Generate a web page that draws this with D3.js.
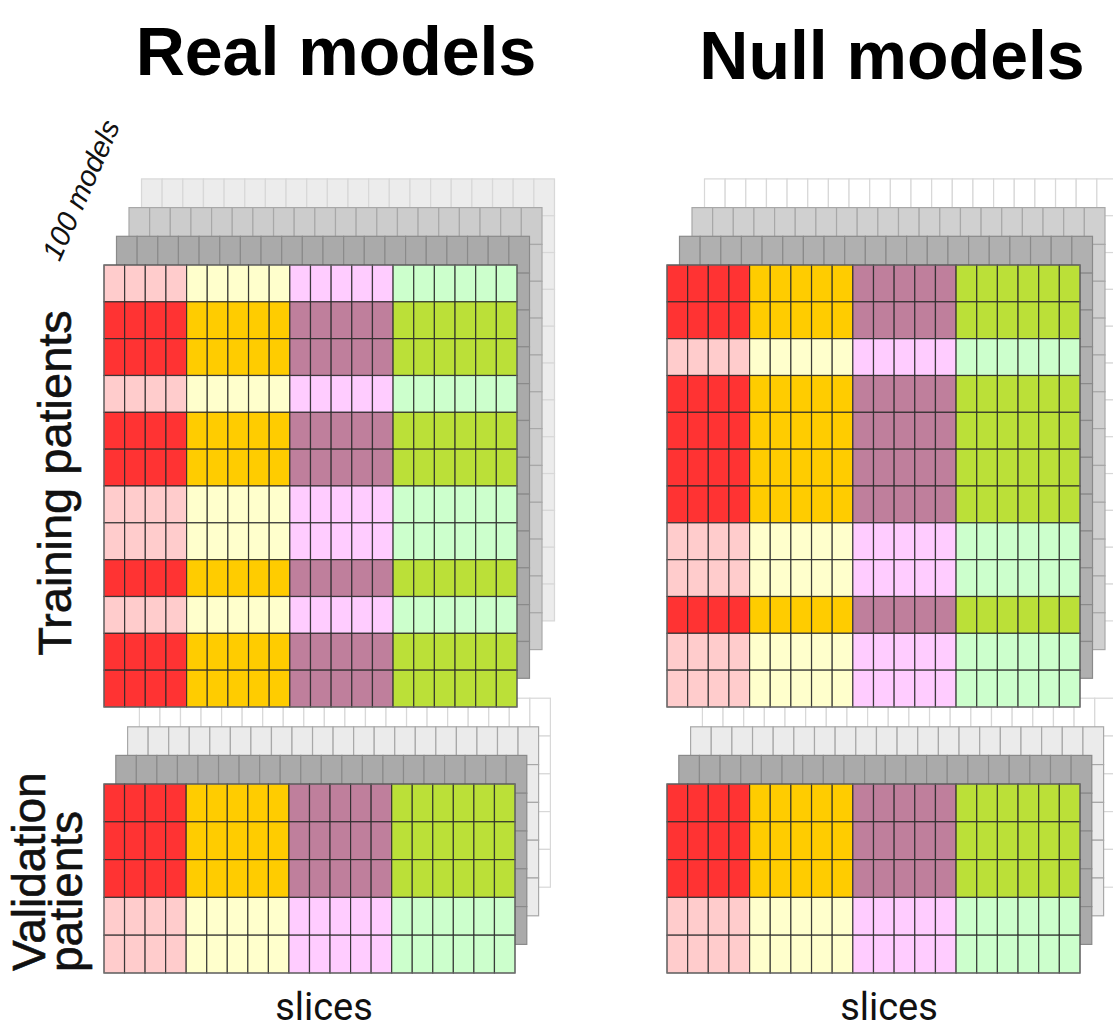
<!DOCTYPE html>
<html>
<head>
<meta charset="utf-8">
<script src="https://cdn.jsdelivr.net/npm/d3@7"></script>
<style>
html,body{margin:0;padding:0;background:#fff;}
svg{display:block;}
</style>
</head>
<body>
<svg id="chart" width="1113" height="1030"></svg>
<script>
// ---- data ----
const panelTitles = ["Real models", "Null models"];
const sliceGroups = [0,0,0,0, 1,1,1,1,1, 2,2,2,2,2, 3,3,3,3,3,3]; // 20 slices
const realTrainRows = [0,1,1,0,1,1,0,0,1,0,1,1]; // 1 = strong colour, 0 = pale
const nullTrainRows = [1,1,0,1,1,1,1,0,0,1,0,0];
const realValidRows = [1,1,1,0,0];
const nullValidRows = [1,1,1,0,0];
const strongColors = ["#ff3333", "#ffcc00", "#bf7f9c", "#bbe038"];
const paleColors   = ["#ffcccc", "#ffffcc", "#ffccff", "#ccffcc"];
const stackLayers = [1, 2, 3];
const trainStackFillsReal = ["#aaaaaa", "#cccccc", "#ececec"];
const trainStackFillsNull = ["#b0b0b0", "#d0d0d0", "#ffffff"];
const validStackFills     = ["#aaaaaa", "#ebebeb", "#ffffff"];
const stackStrokes        = ["#8a8a8a", "#a8a8a8", "#d8d8d8"];

const svg = d3.select("#chart");

function drawGrid(g, rows, x0, x1, y0, y1, dx, dy, stackFills) {
  const x = d3.scaleBand().domain(d3.range(sliceGroups.length)).range([x0, x1]);
  const y = d3.scaleBand().domain(d3.range(rows.length)).range([y0, y1]);
  const cells = [];
  rows.forEach((r, i) => sliceGroups.forEach((s, j) => cells.push({i, j, r, s})));

  // back layers (farthest first)
  stackLayers.slice().reverse().forEach(k => {
    const layer = g.append("g").attr("transform", `translate(${dx * k},${-dy * k})`);
    layer.selectAll("rect").data(cells).join("rect")
      .attr("x", d => x(d.j)).attr("y", d => y(d.i))
      .attr("width", x.bandwidth()).attr("height", y.bandwidth())
      .attr("fill", stackFills[k - 1])
      .attr("stroke", stackStrokes[k - 1]).attr("stroke-width", 1.2);
  });

  // front layer
  const front = g.append("g");
  front.selectAll("rect").data(cells).join("rect")
    .attr("x", d => x(d.j)).attr("y", d => y(d.i))
    .attr("width", x.bandwidth()).attr("height", y.bandwidth())
    .attr("fill", d => d.r ? strongColors[d.s] : paleColors[d.s])
    .attr("stroke", "#2a2a2a").attr("stroke-opacity", 0.85).attr("stroke-width", 1.2);
  front.append("rect")
    .attr("x", x0).attr("y", y0).attr("width", x1 - x0).attr("height", y1 - y0)
    .attr("fill", "none").attr("stroke", "#777").attr("stroke-width", 1);
}

// validation first so the training grids sit on top of their back layers
drawGrid(svg.append("g"), realValidRows, 104, 515, 784, 973, 11.8, 28.6, validStackFills);
drawGrid(svg.append("g"), nullValidRows, 667, 1080, 784, 973, 11.8, 28.6, validStackFills);
drawGrid(svg.append("g"), realTrainRows, 104, 517, 265, 707, 12.5, 28.7, trainStackFillsReal);
drawGrid(svg.append("g"), nullTrainRows, 667, 1080, 265, 707, 12.5, 28.7, trainStackFillsNull);

const sans = "Liberation Sans, Arial, sans-serif";

// titles
svg.append("text").attr("x", 336).attr("y", 75)
  .attr("text-anchor", "middle").attr("font-family", sans)
  .attr("font-weight", "bold").attr("font-size", 68).text(panelTitles[0]);
svg.append("text").attr("x", 892).attr("y", 79)
  .attr("text-anchor", "middle").attr("font-family", sans)
  .attr("font-weight", "bold").attr("font-size", 68).text(panelTitles[1]);

// side labels
function label(transform, anchor, size, txt) {
  svg.append("text").attr("transform", transform)
    .attr("text-anchor", anchor).attr("font-family", sans)
    .attr("font-size", size).attr("fill", "#111")
    .attr("stroke", "#111").attr("stroke-width", 0.6)
    .text(txt);
}
label("translate(71,483) rotate(-90)", "middle", 47, "Training patients");
label("translate(45,971) rotate(-90)", "start", 46, "Validation");
label("translate(82,972) rotate(-90)", "start", 46, "patients");

svg.append("text").attr("transform", "translate(90,194) rotate(-66)")
  .attr("text-anchor", "middle").attr("font-family", sans)
  .attr("font-style", "italic").attr("font-size", 29).attr("fill", "#111").text("100 models");

svg.append("text").attr("x", 324).attr("y", 1020)
  .attr("text-anchor", "middle").attr("font-family", "Roboto, Liberation Sans, sans-serif")
  .attr("font-size", 38).attr("fill", "#111").text("slices");
svg.append("text").attr("x", 889).attr("y", 1020)
  .attr("text-anchor", "middle").attr("font-family", "Roboto, Liberation Sans, sans-serif")
  .attr("font-size", 38).attr("fill", "#111").text("slices");
</script>
</body>
</html>
